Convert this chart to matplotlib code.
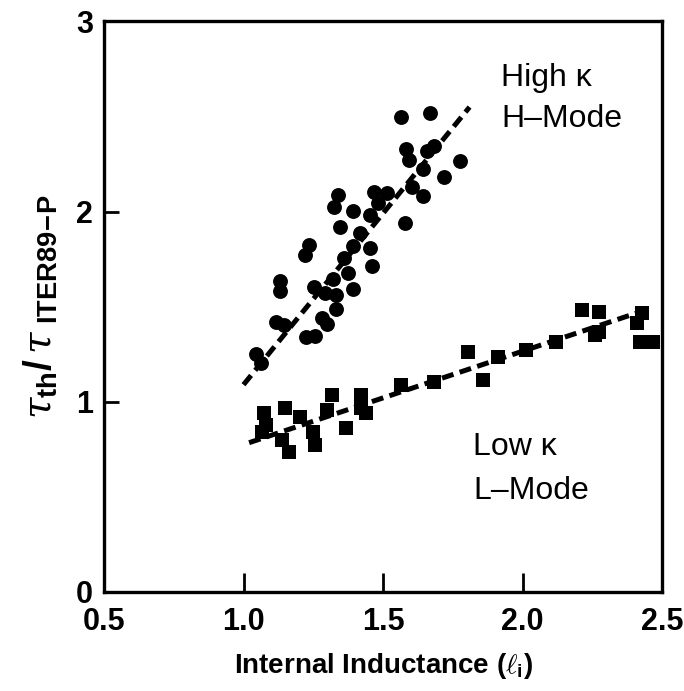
import matplotlib
matplotlib.use("Agg")
import matplotlib.pyplot as plt

plt.rcParams['font.family'] = ['Liberation Sans', 'DejaVu Sans']
plt.rcParams['mathtext.fontset'] = 'custom'
plt.rcParams['mathtext.rm'] = 'Liberation Sans:bold'
plt.rcParams['mathtext.bf'] = 'Liberation Sans:bold'
plt.rcParams['mathtext.it'] = 'DejaVu Serif:italic'

# High-kappa H-mode data (circles)
h_li = [1.566, 1.667, 1.656, 1.682, 1.774, 1.584, 1.593, 1.644, 1.720, 1.605,
        1.642, 1.579, 1.339, 1.324, 1.392, 1.466, 1.515, 1.482, 1.454, 1.345,
        1.416, 1.233, 1.221, 1.392, 1.455, 1.360, 1.461, 1.374, 1.132, 1.130,
        1.254, 1.321, 1.292, 1.333, 1.394, 1.333, 1.280, 1.300, 1.118, 1.144,
        1.223, 1.256, 1.046, 1.061]
h_tau = [2.497, 2.518, 2.321, 2.347, 2.267, 2.330, 2.272, 2.223, 2.181, 2.132,
         2.083, 1.939, 2.088, 2.026, 2.004, 2.105, 2.100, 2.044, 1.983, 1.918,
         1.886, 1.825, 1.772, 1.819, 1.811, 1.755, 1.716, 1.676, 1.635, 1.584,
         1.602, 1.646, 1.571, 1.562, 1.593, 1.486, 1.439, 1.407, 1.418, 1.404,
         1.342, 1.346, 1.251, 1.205]

# Low-kappa L-mode data (squares)
l_li = [1.073, 1.079, 1.067, 1.148, 1.203, 1.138, 1.162, 1.250, 1.256, 1.298,
        1.316, 1.369, 1.422, 1.440, 1.420, 1.564, 1.682, 1.806, 1.859, 1.912,
        2.013, 2.119, 2.214, 2.273, 2.261, 2.273, 2.427, 2.409, 2.421, 2.469]
l_tau = [0.939, 0.877, 0.840, 0.965, 0.921, 0.798, 0.737, 0.842, 0.772, 0.956,
         1.035, 0.860, 1.035, 0.939, 0.970, 1.088, 1.105, 1.263, 1.114, 1.237,
         1.272, 1.316, 1.483, 1.474, 1.351, 1.368, 1.465, 1.413, 1.316, 1.316]

# Fit lines (endpoints)
h_fit_x = [1.00, 1.81]
h_fit_y = [1.09, 2.55]
l_fit_x = [1.02, 2.46]
l_fit_y = [0.785, 1.492]

x_ticks = [0.5, 1.0, 1.5, 2.0, 2.5]
x_ticklabels = ['0.5', '1.0', '1.5', '2.0', '2.5']
y_ticks = [0, 1, 2, 3]
y_ticklabels = ['0', '1', '2', '3']

fig = plt.figure(figsize=(6.84, 6.91), dpi=100)
ax = fig.add_axes([0.152, 0.1433, 0.816, 0.8256])

ax.scatter(h_li, h_tau, s=115, marker='o', color='black', linewidths=0, zorder=3)
ax.scatter(l_li, l_tau, s=95, marker='s', color='black', linewidths=0, zorder=3)
ax.plot(h_fit_x, h_fit_y, color='black', lw=3.6, dashes=(2.4, 1.3), zorder=2)
ax.plot(l_fit_x, l_fit_y, color='black', lw=3.6, dashes=(2.4, 1.3), zorder=2)

ax.set_xlim(0.5, 2.5)
ax.set_ylim(0, 3)
ax.set_xticks(x_ticks)
ax.set_xticklabels(x_ticklabels, fontsize=22, fontweight='bold')
ax.set_yticks(y_ticks)
ax.set_yticklabels(y_ticklabels, fontsize=22, fontweight='bold')
ax.tick_params(axis='x', direction='in', length=14, width=2, pad=11)
ax.tick_params(axis='y', direction='in', length=11, width=2, pad=8)
for s in ax.spines.values():
    s.set_linewidth(2.4)

ax.text(1.923, 2.66, 'High κ', fontsize=23, va='baseline', ha='left')
ax.text(1.923, 2.445, 'H–Mode', fontsize=23, va='baseline', ha='left')
ax.text(1.824, 0.72, 'Low κ', fontsize=23, va='baseline', ha='left')
ax.text(1.824, 0.49, 'L–Mode', fontsize=23, va='baseline', ha='left')

ax.set_xlabel(r'Internal Inductance ($\ell_{\mathrm{i}}$)', fontsize=20, fontweight='bold', labelpad=10)
ax.set_ylabel(r'$\tau_{\mathrm{th}}/\,\tau_{\mathbf{\ ITER89\!-\!P}}$', fontsize=28, labelpad=12)

fig.savefig('out.png', dpi=100)
